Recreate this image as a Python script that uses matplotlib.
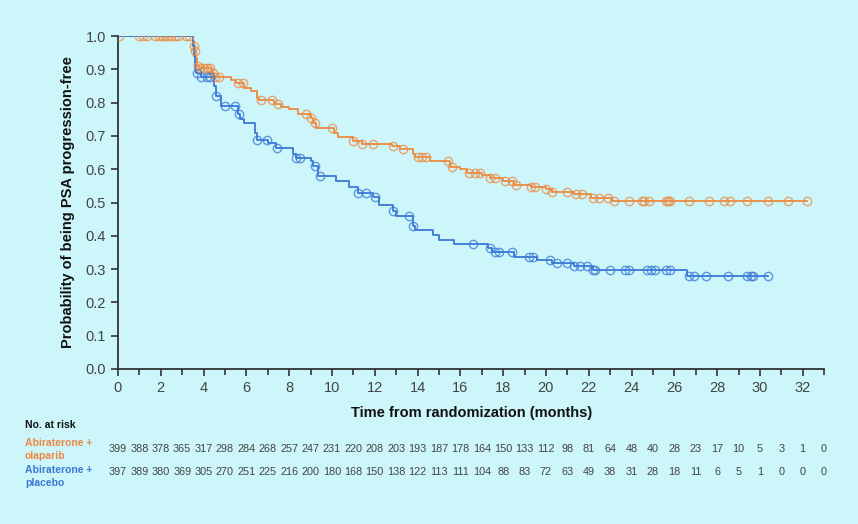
import numpy as np
import matplotlib.pyplot as plt
from matplotlib.transforms import blended_transform_factory

plt.rcParams['font.family'] = ['Liberation Sans', 'DejaVu Sans']

# Kaplan-Meier steps (time in months, survival after the step)
olap_t = [0, 3.5, 3.55, 3.6, 3.65, 3.7, 3.8, 4.4, 4.5, 5.3, 5.5, 5.9, 6.2, 6.5, 6.6,
          7.3, 7.6, 8.0, 8.4, 9.0, 9.1, 9.25, 10.1, 10.3, 11.0, 11.4, 12.8, 13.2,
          13.8, 13.9, 14.6, 15.5, 16.0, 16.3, 17.0, 17.4, 18.0, 18.5, 19.3, 20.0,
          20.3, 21.3, 22.1, 23.1, 32.2]
olap_s = [1.0, 0.985, 0.97, 0.955, 0.935, 0.91, 0.905, 0.89, 0.878, 0.868, 0.858,
          0.845, 0.835, 0.815, 0.808, 0.797, 0.787, 0.78, 0.765, 0.755, 0.74, 0.725,
          0.71, 0.697, 0.685, 0.675, 0.67, 0.662, 0.645, 0.637, 0.625, 0.607, 0.6,
          0.59, 0.583, 0.575, 0.565, 0.553, 0.547, 0.54, 0.532, 0.525, 0.513, 0.505,
          0.505]
olap_cens = [0.05, 1.0, 1.15, 1.35, 1.75, 1.9, 2.05, 2.2, 2.35, 2.5, 2.65, 2.8, 3.2,
             3.3, 3.55, 3.62, 3.75, 3.85, 4.0, 4.15, 4.3, 4.45, 4.55, 4.7, 5.6, 5.85,
             6.7, 7.2, 7.5, 8.8, 9.0, 9.2, 10.0, 11.0, 11.4, 11.9, 12.85, 13.3, 14.0,
             14.2, 14.4, 15.4, 15.6, 16.4, 16.7, 16.9, 17.4, 17.6, 18.1, 18.4, 18.6,
             19.3, 19.5, 20.0, 20.3, 21.0, 21.4, 21.7, 22.2, 22.5, 22.9, 23.2, 23.9,
             24.5, 24.6, 24.8, 25.6, 25.7, 25.8, 26.7, 27.6, 28.3, 28.6, 29.4, 30.4,
             31.3, 32.2]

plac_t = [0, 3.5, 3.55, 3.6, 3.65, 3.9, 4.5, 4.6, 4.8, 5.6, 5.7, 5.9, 6.4, 6.5, 7.0,
          7.4, 8.2, 8.3, 9.0, 9.1, 9.35, 10.2, 10.8, 11.2, 11.9, 12.2, 12.85, 13.0,
          13.8, 13.9, 14.7, 15.0, 15.7, 17.3, 17.5, 18.5, 19.6, 20.3, 21.3, 22.2,
          26.6, 30.4]
plac_s = [1.0, 0.97, 0.94, 0.9, 0.89, 0.878, 0.85, 0.82, 0.79, 0.765, 0.752, 0.74,
          0.71, 0.688, 0.68, 0.664, 0.645, 0.633, 0.625, 0.61, 0.58, 0.565, 0.547,
          0.53, 0.516, 0.492, 0.475, 0.46, 0.43, 0.417, 0.402, 0.387, 0.375, 0.363,
          0.35, 0.337, 0.327, 0.318, 0.31, 0.297, 0.28, 0.28]
plac_cens = [3.7, 3.9, 4.15, 4.3, 4.6, 5.0, 5.45, 5.65, 6.5, 6.95, 7.45, 8.3, 8.5,
             9.2, 9.45, 11.2, 11.6, 12.0, 12.85, 13.6, 13.8, 16.6, 17.4, 17.6, 17.8,
             18.4, 19.2, 19.4, 20.2, 20.5, 21.0, 21.3, 21.6, 21.9, 22.2, 22.3, 23.0,
             23.7, 23.9, 24.7, 24.9, 25.1, 25.6, 25.8, 26.7, 26.9, 27.5, 28.5, 29.4,
             29.6, 29.7, 30.4]

# Number at risk, months 0..33
risk_months = list(range(34))
risk_olap = [399, 388, 378, 365, 317, 298, 284, 268, 257, 247, 231, 220, 208, 203,
             193, 187, 178, 164, 150, 133, 112, 98, 81, 64, 48, 40, 28, 23, 17, 10,
             5, 3, 1, 0]
risk_plac = [397, 389, 380, 369, 305, 270, 251, 225, 216, 200, 180, 168, 150, 138,
             122, 113, 111, 104, 88, 83, 72, 63, 49, 38, 31, 28, 18, 11, 6, 5, 1, 0,
             0, 0]

bg = '#CCF6FA'
orange = '#EE8A40'
blue = '#3B78D6'


def level_at(times, surv, t):
    idx = np.searchsorted(times, t, side='right') - 1
    return np.array(surv)[idx]


fig = plt.figure(figsize=(8.58, 5.24), dpi=100, facecolor=bg)
ax = fig.add_axes([0.1375, 0.296, 0.823, 0.635], facecolor=bg)

for t, s, c, col in [(olap_t, olap_s, olap_cens, orange), (plac_t, plac_s, plac_cens, blue)]:
    ax.step(t, s, where='post', color=col, lw=1.3, zorder=3)
    ax.plot(c, level_at(t, s, c), 'o', mfc='none', mec=col, ms=6, mew=1.0,
            alpha=0.75, zorder=4)

ax.set_xlim(0, 33)
ax.set_ylim(0, 1.0)
ax.set_xticks(range(0, 33, 2))
ax.set_xticks(range(0, 34), minor=True)
ax.set_yticks(np.arange(0, 1.01, 0.1))
ax.set_yticklabels([f'{v:.1f}' for v in np.arange(0, 1.01, 0.1)])
ax.tick_params(axis='both', which='both', direction='out', colors='#333333',
               labelcolor='#444444', labelsize=10.5, width=1.2)
ax.tick_params(axis='both', which='major', length=5)
ax.tick_params(axis='x', which='minor', length=4)
for sp in ['top', 'right']:
    ax.spines[sp].set_visible(False)
for sp in ['left', 'bottom']:
    ax.spines[sp].set_color('#333333')
    ax.spines[sp].set_linewidth(1.3)

ax.set_ylabel('Probability of being PSA progression-free', fontsize=10.5,
              fontweight='bold', color='#111111', labelpad=8)
fig.text(0.55, 0.212, 'Time from randomization (months)', fontsize=10.5,
         fontweight='bold', color='#111111', ha='center', va='center')

# risk table
fig.text(0.029, 0.189, 'No. at risk', fontsize=7.5, fontweight='bold',
         color='#111111', va='center')
fig.text(0.029, 0.142, 'Abiraterone +\nolaparib', fontsize=7.5, fontweight='bold',
         color=orange, va='center', linespacing=1.4)
fig.text(0.029, 0.090, 'Abiraterone +\nplacebo', fontsize=7.5, fontweight='bold',
         color=blue, va='center', linespacing=1.4)
trans = blended_transform_factory(ax.transData, fig.transFigure)
narrow = ['Liberation Sans Narrow', 'Liberation Sans']
for m, a, b in zip(risk_months, risk_olap, risk_plac):
    ax.text(m, 0.143, str(a), transform=trans, ha='center', va='center',
            fontsize=7.8, color='#444444', clip_on=False, family=narrow)
    ax.text(m, 0.099, str(b), transform=trans, ha='center', va='center',
            fontsize=7.8, color='#444444', clip_on=False, family=narrow)

fig.savefig('out.png', dpi=100, facecolor=bg)
